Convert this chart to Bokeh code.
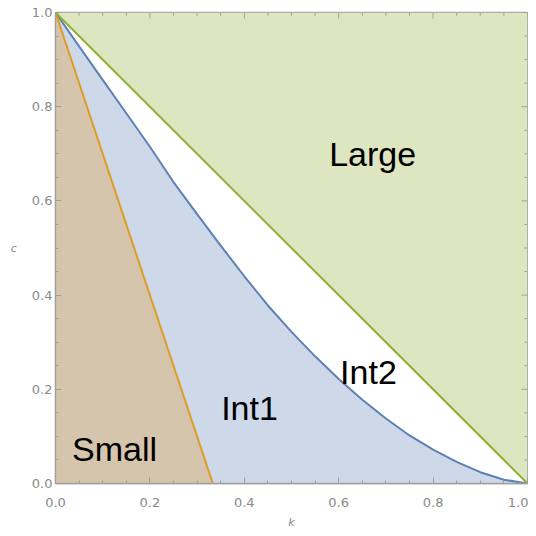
from bokeh.plotting import figure
from bokeh.models import Range1d, LinearAxis, FixedTicker, PrintfTickFormatter
from bokeh.core.properties import value
from bokeh.embed import file_html
from bokeh.resources import INLINE

# ---- data ----
k_vals = [0.0, 0.05, 0.10, 0.15, 0.20, 0.25, 0.30, 0.35, 0.40, 0.45, 0.50,
          0.55, 0.60, 0.65, 0.70, 0.75, 0.80, 0.85, 0.90, 0.95, 1.0]
blue_c = [1.0, 0.928, 0.857, 0.786, 0.715, 0.640, 0.572, 0.505, 0.440, 0.378, 0.322,
          0.270, 0.222, 0.178, 0.138, 0.102, 0.072, 0.046, 0.024, 0.008, 0.0]
orange_k = [0.0, 1.0 / 3.0]
orange_c = [1.0, 0.0]
green_k = [0.0, 1.0]
green_c = [1.0, 0.0]
top_c = [1.0, 1.0]

region_names = ["Large", "Int2", "Int1", "Small"]
region_k = [0.672, 0.663, 0.411, 0.125]
region_c = [0.700, 0.236, 0.161, 0.074]

major_ticks = [0.0, 0.2, 0.4, 0.6, 0.8, 1.0]
minor_ticks = [0.05, 0.1, 0.15, 0.25, 0.3, 0.35, 0.45, 0.5, 0.55,
               0.65, 0.7, 0.75, 0.85, 0.9, 0.95]

# ---- styling ----
C_BLUE = "#5e81b5"
C_ORANGE = "#e19c24"
C_GREEN = "#8fb032"
F_LARGE = "#dde6c0"
F_INT1 = "#cdd8e9"
F_SMALL = "#d5c5ad"
AX = "#a0a0a0"
LBL = "#8a8a8a"
MAJ_LEN = 0.013   # inward tick length as a fraction of the axis span
MIN_LEN = 0.007

p = figure(width=528, height=536, output_backend="svg", toolbar_location=None,
           x_range=Range1d(0, 1), y_range=Range1d(0, 1),
           x_axis_location=None, y_axis_location=None,
           min_border_left=55, min_border_right=1, min_border_top=12, min_border_bottom=53)
p.xgrid.visible = False
p.ygrid.visible = False
p.outline_line_color = AX
p.outline_line_width = 1.3
p.background_fill_color = "white"
p.border_fill_color = "white"

# fills
p.varea(x=green_k, y1=green_c, y2=top_c, fill_color=F_LARGE)
p.varea(x=k_vals, y1=[0.0] * len(k_vals), y2=blue_c, fill_color=F_INT1)
p.varea(x=orange_k, y1=[0.0, 0.0], y2=orange_c, fill_color=F_SMALL)

# boundaries
p.line(k_vals, blue_c, line_color=C_BLUE, line_width=2, line_join="round")
p.line(orange_k, orange_c, line_color=C_ORANGE, line_width=2)
p.line(green_k, green_c, line_color=C_GREEN, line_width=2)

# inward ticks on the top and right edges of the frame
p.segment(x0=major_ticks, y0=[1.0] * len(major_ticks), x1=major_ticks,
          y1=[1.0 - MAJ_LEN] * len(major_ticks), line_color=AX, line_width=1)
p.segment(x0=minor_ticks, y0=[1.0] * len(minor_ticks), x1=minor_ticks,
          y1=[1.0 - MIN_LEN] * len(minor_ticks), line_color=AX, line_width=1)
p.segment(x0=[1.0] * len(major_ticks), y0=major_ticks, x1=[1.0 - MAJ_LEN] * len(major_ticks),
          y1=major_ticks, line_color=AX, line_width=1)
p.segment(x0=[1.0] * len(minor_ticks), y0=minor_ticks, x1=[1.0 - MIN_LEN] * len(minor_ticks),
          y1=minor_ticks, line_color=AX, line_width=1)

# region labels
p.text(x=region_k, y=region_c, text=region_names, text_align="center",
       text_baseline="middle", text_font=value("Liberation Sans"),
       text_font_size="34px", text_color="black")

ticker = FixedTicker(ticks=major_ticks, minor_ticks=minor_ticks)

def style(ax, standoff):
    ax.ticker = ticker
    ax.axis_line_color = AX
    ax.axis_line_width = 1.3
    ax.major_tick_line_color = AX
    ax.minor_tick_line_color = AX
    ax.major_tick_in = 6
    ax.major_tick_out = 0
    ax.minor_tick_in = 3
    ax.minor_tick_out = 0
    ax.formatter = PrintfTickFormatter(format="%.1f")
    ax.major_label_text_font = "DejaVu Sans"
    ax.major_label_text_font_size = "13px"
    ax.major_label_text_color = LBL
    ax.major_label_standoff = standoff
    ax.axis_label_text_font = "DejaVu Sans"
    ax.axis_label_text_font_style = "italic"
    ax.axis_label_text_font_size = "11px"
    ax.axis_label_text_color = LBL

xb = LinearAxis(axis_label="k")
style(xb, 14)
xb.axis_label_standoff = 6
p.add_layout(xb, "below")

yl = LinearAxis(axis_label="c")
style(yl, 3)
yl.axis_label_orientation = "horizontal"
yl.axis_label_standoff = 12
p.add_layout(yl, "left")

open("out.html", "w").write(file_html(p, INLINE))
